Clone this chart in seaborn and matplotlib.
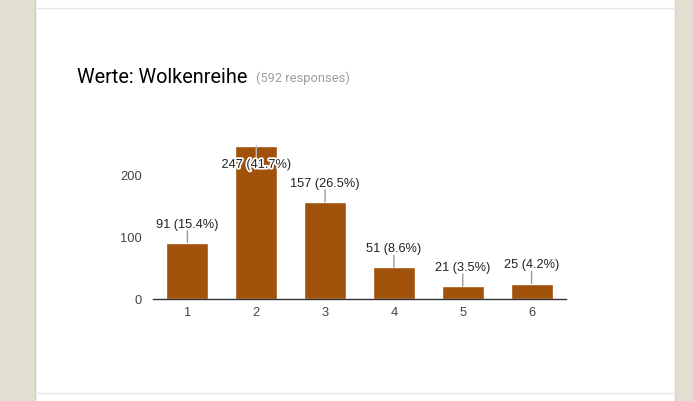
import matplotlib
matplotlib.use("Agg")
import matplotlib.pyplot as plt
import matplotlib.patheffects as pe
import seaborn as sns
import pandas as pd
from matplotlib.patches import Rectangle
from matplotlib.lines import Line2D

categories = ["1", "2", "3", "4", "5", "6"]
values = [91, 247, 157, 51, 21, 25]
percents = ["15.4%", "41.7%", "26.5%", "8.6%", "3.5%", "4.2%"]
yticks = [0, 100, 200]
title = "Werte: Wolkenreihe"
subtitle = "(592 responses)"

sns.set_theme(style="white")
plt.rcParams["font.family"] = ["Liberation Sans", "DejaVu Sans"]

W, H = 693, 402
fig = plt.figure(figsize=(W / 100, H / 100), dpi=100)
fig.patch.set_facecolor("white")

# page background strips and card borders
beige = "#e2dfd0"
fig.add_artist(Rectangle((0, 0), 34 / W, 1, transform=fig.transFigure, color=beige, zorder=0))
fig.add_artist(Rectangle((675 / W, 0), 18 / W, 1, transform=fig.transFigure, color=beige, zorder=0))
fig.add_artist(Line2D([34.5 / W, 34.5 / W], [0, 1], transform=fig.transFigure, color="#cfcbbb", lw=1))
fig.add_artist(Line2D([675 / W, 675 / W], [0, 1], transform=fig.transFigure, color="#d6d2c4", lw=0.8))
fig.add_artist(Line2D([35 / W, 675 / W], [1 - 8.5 / H, 1 - 8.5 / H], transform=fig.transFigure, color="#e6e6e6", lw=1))
fig.add_artist(Line2D([35 / W, 675 / W], [1 - 393.5 / H, 1 - 393.5 / H], transform=fig.transFigure, color="#e6e6e6", lw=1))

fig.text(77 / W, 1 - 83 / H, title, fontsize=14.3, color="#000000", family=["Roboto", "DejaVu Sans"], va="baseline")
fig.text(256 / W, 1 - 82 / H, subtitle, fontsize=9.3, color="#9e9e9e", family=["Roboto", "DejaVu Sans"], va="baseline")

ymax = 250
ax = fig.add_axes([153 / W, 102 / H, 413 / W, (ymax * 0.62) / H])
df = pd.DataFrame({"cat": categories, "val": values})
sns.barplot(data=df, x="cat", y="val", color="#a0520b", saturation=1, width=0.61, ax=ax)
ax.set_xlim(-0.5, 5.5)
ax.set_ylim(0, ymax)
ax.set_xlabel("")
ax.set_ylabel("")
for s in ["top", "right", "left"]:
    ax.spines[s].set_visible(False)
ax.spines["bottom"].set_color("#333333")
ax.spines["bottom"].set_linewidth(1)
ax.set_yticks(yticks)
ax.set_yticklabels([str(t) for t in yticks])
ax.tick_params(axis="both", length=0, labelsize=9.3, colors="#444444")
ax.tick_params(axis="y", pad=8)
ax.tick_params(axis="x", pad=5)
ax.set_facecolor("none")

for i, (v, p) in enumerate(zip(values, percents)):
    label = f"{v} ({p})"
    if v + 30 > ymax:
        ax.annotate("", xy=(i, v), xytext=(0, -12), textcoords="offset pixels",
                    arrowprops=dict(arrowstyle="-", color="#bbbbbb", lw=1, shrinkA=0, shrinkB=0))
        ax.annotate(label, xy=(i, v), xytext=(0, -19), textcoords="offset pixels",
                    ha="center", va="center", fontsize=9.2, color="#222222", annotation_clip=False,
                    path_effects=[pe.withStroke(linewidth=2.5, foreground="white")])
    else:
        ax.annotate("", xy=(i, v), xytext=(0, 12), textcoords="offset pixels",
                    arrowprops=dict(arrowstyle="-", color="#999999", lw=1, shrinkA=0, shrinkB=0))
        ax.annotate(label, xy=(i, v), xytext=(0, 13), textcoords="offset pixels",
                    ha="center", va="bottom", fontsize=9.2, color="#222222", annotation_clip=False)

fig.savefig("out.png", dpi=100)
